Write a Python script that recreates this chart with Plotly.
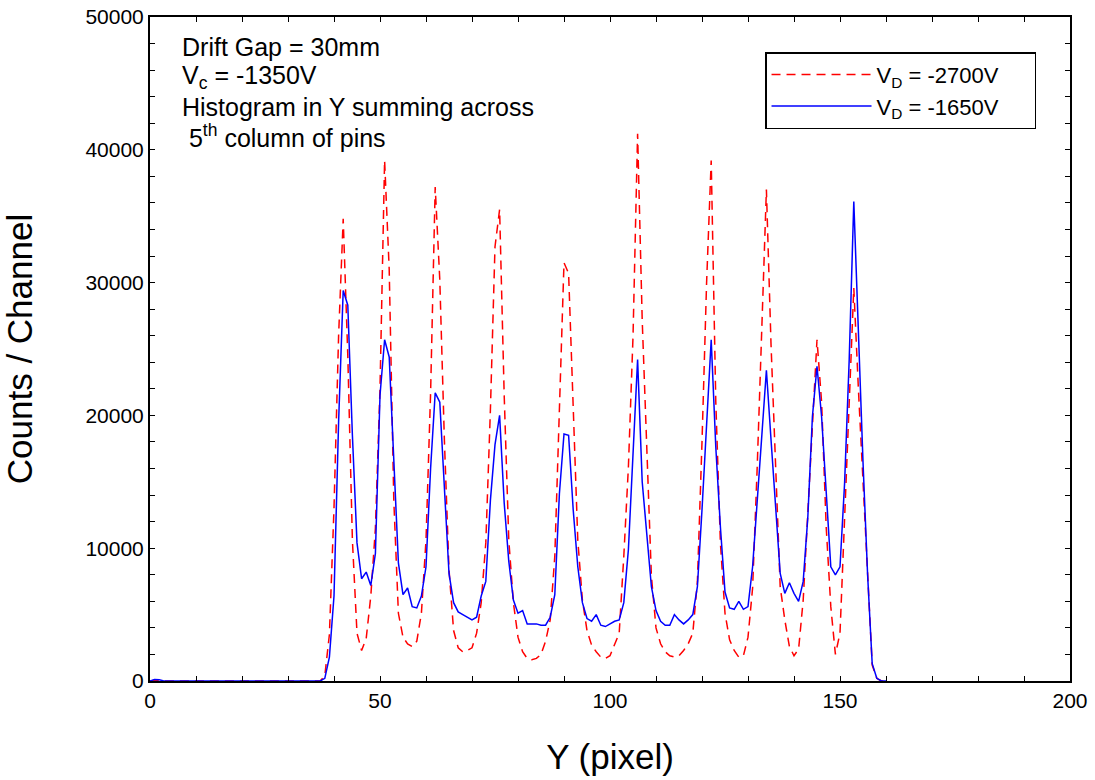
import plotly.graph_objects as go

# Y pixel index (channel)
y_pixel = list(range(0, 161))

counts_2700 = [
    0, 50, 0, 0, 0, 0, 0, 0, 0, 0,
    0, 0, 0, 0, 0, 0, 0, 0, 0, 0,
    0, 0, 0, 0, 0, 0, 0, 0, 0, 0,
    0, 0, 0, 0, 0, 0, 0, 0, 400, 3500,
    13000, 26000, 34800, 24500, 10600, 3600, 2300, 3200, 6400, 11500,
    22000, 39200, 31000, 13600, 5100, 3300, 2800, 2600, 3000, 5100,
    10600, 21700, 37200, 30200, 18100, 8400, 3800, 2500, 2200, 2300,
    2500, 3600, 5900, 10400, 20400, 32700, 35500, 21500, 10600, 5900,
    3300, 2200, 1700, 1600, 1700, 2000, 3000, 4600, 9400, 19700,
    31500, 30700, 20500, 10600, 6100, 3800, 2700, 2200, 1800, 1700,
    1900, 2700, 3600, 9400, 16100, 25900, 41200, 27200, 17400, 7900,
    4000, 2800, 2200, 1900, 1800, 1900, 2300, 2800, 3600, 7500,
    18000, 30000, 39200, 21000, 10400, 5100, 3100, 2300, 1800, 1900,
    3300, 7000, 16100, 27200, 37000, 25400, 16600, 7100, 4600, 2600,
    1900, 2400, 6100, 12900, 20000, 25700, 21000, 11600, 5600, 2000,
    3600, 12500, 21000, 29600, 22000, 15000, 7500, 1200, 200, 0,
    0,
]

counts_1650 = [
    0, 120, 100, 0, 0, 0, 0, 0, 0, 0,
    0, 0, 0, 0, 0, 0, 0, 0, 0, 0,
    0, 0, 0, 0, 0, 0, 0, 0, 0, 0,
    0, 0, 0, 0, 0, 0, 0, 0, 200, 1800,
    6400, 19500, 29400, 28300, 18500, 10400, 7700, 8200, 7200, 9600,
    21500, 25700, 24400, 17000, 8900, 6500, 7000, 5600, 5500, 6400,
    8600, 16000, 21700, 21000, 14900, 8100, 5900, 5200, 5000, 4800,
    4600, 4800, 6400, 7500, 13600, 17800, 20000, 13400, 9000, 6100,
    5100, 5300, 4300, 4300, 4300, 4200, 4200, 4800, 6500, 14100,
    18600, 18500, 12900, 8600, 5900, 4700, 4500, 5000, 4200, 4100,
    4300, 4500, 4600, 5900, 9900, 17300, 24200, 15000, 11100, 7100,
    5300, 4500, 4200, 4200, 5000, 4600, 4300, 4600, 5000, 7100,
    12900, 19000, 25700, 17600, 11600, 6700, 5500, 5400, 6000, 5400,
    5600, 8600, 13600, 18700, 23400, 18200, 12900, 8100, 6600, 7400,
    6600, 6000, 7500, 12300, 19900, 23700, 19900, 13900, 8600, 8000,
    8600, 14900, 24200, 36100, 26000, 16500, 8000, 1300, 200, 0,
    0,
]

series_names = ["V<sub>D</sub> = -2700V", "V<sub>D</sub> = -1650V"]
x_ticks = [0, 50, 100, 150, 200]
y_ticks = [0, 10000, 20000, 30000, 40000, 50000]
info_lines = [
    "Drift Gap = 30mm",
    "V<sub>c</sub> = -1350V",
    "Histogram in Y summing across",
    " 5<sup>th</sup> column of pins",
]

FONT = "Liberation Sans, Arial, sans-serif"
PAD = "\u00a0" * 5

fig = go.Figure()
fig.add_trace(go.Scatter(
    x=y_pixel, y=counts_2700, mode="lines", name=series_names[0] + PAD,
    line=dict(color="#ff0000", width=1.5, dash="9px,6px"),
))
fig.add_trace(go.Scatter(
    x=y_pixel, y=counts_1650, mode="lines", name=series_names[1] + PAD,
    line=dict(color="#0000ff", width=1.5),
))

line_y = [0.9548, 0.910, 0.8645, 0.8208]
for txt, yy in zip(info_lines, line_y):
    fig.add_annotation(
        text=txt, xref="paper", yref="paper", x=0.033, y=yy,
        xanchor="left", yanchor="middle", showarrow=False,
        font=dict(family=FONT, size=25, color="black"),
    )

axis_common = dict(
    showline=True, linecolor="black", linewidth=2, mirror="allticks",
    ticks="inside", ticklen=5, tickwidth=1, tickcolor="black",
    showgrid=False, zeroline=False, ticklabeloverflow="allow",
    tickfont=dict(family=FONT, size=21, color="black"),
)

fig.update_xaxes(
    range=[0, 200], tickvals=x_ticks,
    minor=dict(dtick=10, ticks="inside", ticklen=5, tickcolor="black", showgrid=False),
    title=dict(text="Y (pixel)", font=dict(family=FONT, size=35, color="black"), standoff=33),
    **axis_common,
)
fig.update_yaxes(
    range=[0, 50000], tickvals=y_ticks, tickformat="d",
    minor=dict(dtick=2000, ticks="inside", ticklen=5, tickcolor="black", showgrid=False),
    title=dict(text="Counts / Channel", font=dict(family=FONT, size=35, color="black"), standoff=49),
    **axis_common,
)

fig.update_layout(
    width=1095, height=780,
    margin=dict(l=150, r=25, t=17, b=99, autoexpand=False),
    paper_bgcolor="white", plot_bgcolor="white",
    font=dict(family=FONT, color="black"),
    legend=dict(
        x=0.6685, y=0.947, xanchor="left", yanchor="top",
        bgcolor="white", bordercolor="black", borderwidth=1.5,
        font=dict(family=FONT, size=22, color="black"),
        itemwidth=100, tracegroupgap=0,
    ),
)

fig.write_html(
    "out.html",
    config={"displayModeBar": False},
    post_script="document.body.style.margin='0px';",
)
